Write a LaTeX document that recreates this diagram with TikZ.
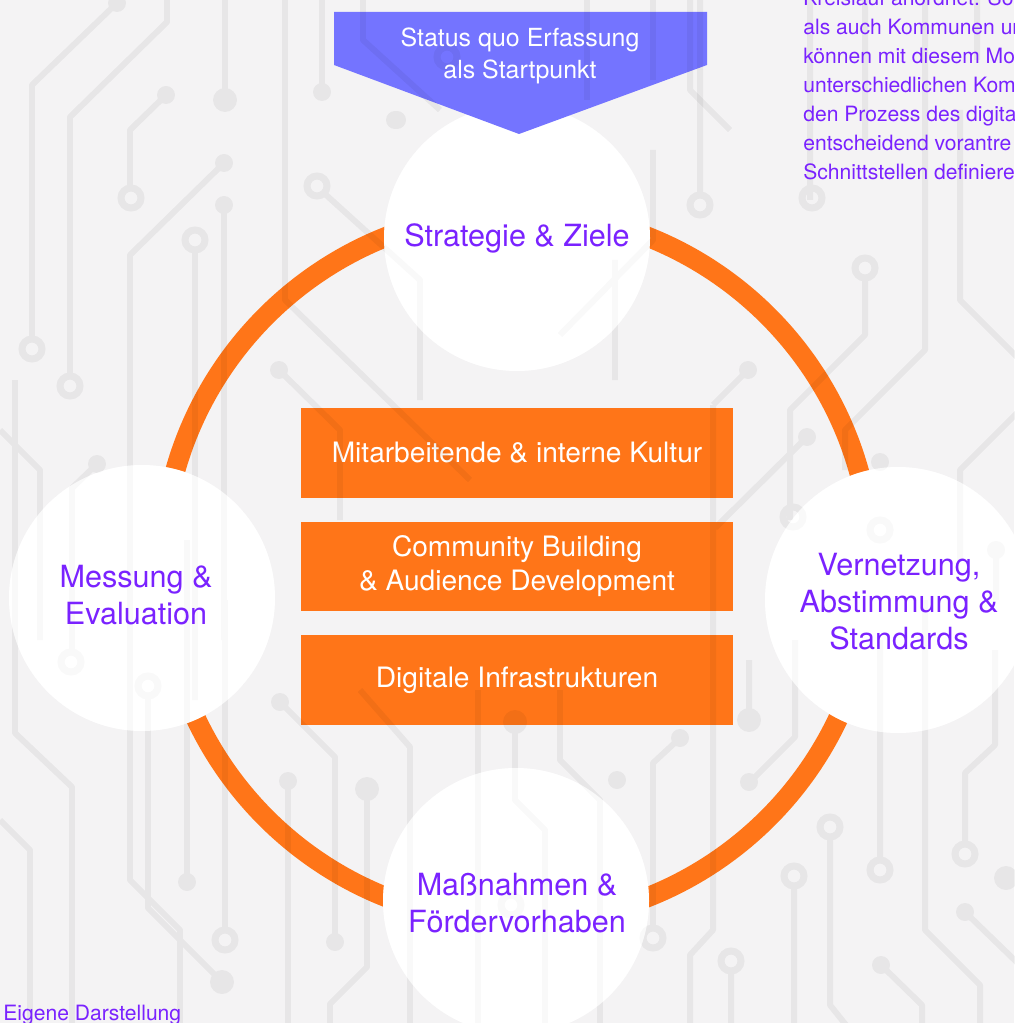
\documentclass[tikz,border=0pt]{standalone}
\usepackage{fontspec}
\setmainfont{TeX Gyre Heros}
\definecolor{bgc}{HTML}{F4F3F4}
\definecolor{org}{HTML}{FF7518}
\definecolor{pur}{HTML}{7A22FF}
\definecolor{arrc}{HTML}{7474FF}
\tikzset{
  circ/.style={circle, fill=white, minimum size=5.32cm, inner sep=0pt},
  ctext/.style={text=pur, align=center, font=\fontsize{17.4pt}{21pt}\selectfont},
  obox/.style={rectangle, fill=org, minimum width=8.64cm, minimum height=1.8cm, inner sep=0pt,
    text=white, align=center, font=\fontsize{16pt}{19.4pt}\selectfont},
  trc/.style={draw=black, line width=3.4pt, line join=round},
  para/.style={text=pur, inner sep=0pt, font=\fontsize{12pt}{16.5pt}\selectfont},
}
\newcommand{\trdot}[1]{\fill (#1) circle (9);}
\newcommand{\trbig}[1]{\fill (#1) circle (12);}
\newcommand{\trring}[1]{\draw[line width=4pt] (#1) circle (10);}
\begin{document}
\begin{tikzpicture}[x=0.02cm,y=-0.02cm]
\useasboundingbox (0,0) rectangle (1014,1023);
\begin{scope}
\clip (0,0) rectangle (1014,1023);
\fill[bgc] (0,0) rectangle (1014,1023);

% orange cycle ring
\draw[org, line width=11.4pt] (517,567) circle (355);

% white circles
\node[circ] (strat) at (517,238) {};
\node[circ] (mess) at (142,598) {};
\node[circ] (vern) at (898,600) {};
\node[circ] (mass) at (516,901) {};

% orange boxes
\node[obox] (b1) at (517,453) {Mitarbeitende \& interne Kultur};
\node[obox] (b2) at (517,566.5) {Community Building\\\& Audience Development};
\node[obox] (b3) at (517,680) {Digitale Infrastrukturen};

% circuit traces overlay
\begin{scope}[transparency group, opacity=0.05]
\draw[trc] (117,3) -- (32,85) -- (32,338); \trdot{117,3} \trring{32,349}
\draw[trc] (167,-10) -- (167,22) -- (70,117) -- (70,374); \trring{70,386}
\draw[trc] (166,95) -- (130,130) -- (130,187); \trdot{166,95} \trring{131,198}
\draw[trc] (225,-10) -- (225,100); \trbig{225,100}
\draw[trc] (224,163) -- (130,255) -- (130,880) -- (180,930) -- (180,1030); \trdot{224,163}
\draw[trc] (224,205) -- (224,640); \trdot{224,205}
\draw[trc] (195,252) -- (195,700); \trring{195,240}
\draw[trc] (285,-10) -- (285,300) -- (470,480);
\draw[trc] (322,-10) -- (322,92); \trdot{322,92}
\draw[trc] (325,194) -- (420,280) -- (420,400); \trring{317,186}
\draw[trc] (279,370) -- (340,430) -- (340,520); \trdot{279,370}
\draw[trc] (15,380) -- (15,733) -- (72,787) -- (72,1030);
\draw[trc] (0,430) -- (40,470) -- (40,640);
\draw[trc] (97,464) -- (72,488) -- (72,650); \trdot{97,464} \trring{71,662}
\draw[trc] (148,698) -- (148,908) -- (222,982); \trring{148,686} \trbig{222,982}
\draw[trc] (187,882) -- (187,540); \trdot{187,882}
\draw[trc] (280,702) -- (335,757) -- (335,942); \trdot{280,702} \trdot{335,942}
\draw[trc] (288,781) -- (288,1030); \trdot{288,781}
\draw[trc] (367,789) -- (367,967) -- (330,1004) -- (330,1030); \trbig{367,789}
\draw[trc] (225,600) -- (225,928); \trring{225,940}
\draw[trc] (0,820) -- (30,850) -- (30,1030);
\draw[trc] (360,690) -- (410,747) -- (410,1030);
\draw[trc] (478,690) -- (478,1030);
\draw[trc] (515,722) -- (515,800) -- (545,830) -- (545,1030); \trbig{515,722}
\trring{511,905}
\trdot{617,780}
\draw[trc] (560,690) -- (560,760) -- (600,800) -- (600,1030);
% right side
\draw[trc] (749,660) -- (749,720); \trbig{749,720}
\draw[trc] (680,738) -- (653,763) -- (653,926); \trdot{680,738} \trring{653,938}
\draw[trc] (795,640) -- (795,737) -- (755,777); \trdot{749,782}
\draw[trc] (830,839) -- (830,1005) -- (850,1030); \trring{830,827}
\draw[trc] (794,888) -- (794,1030); \trring{794,876}
\draw[trc] (880,640) -- (880,858); \trring{880,870}
\draw[trc] (925,600) -- (925,930) -- (980,985) -- (980,1030);
\draw[trc] (995,650) -- (995,745) -- (965,773) -- (965,842); \trring{965,854}
\draw[trc] (965,912) -- (1030,975); \trdot{965,912}
\draw[trc] (731,973) -- (731,1030); \trring{731,961}
\draw[trc] (881,965) -- (922,1005) -- (922,1030); \trdot{881,965}
\trbig{1006,878}
\draw[trc] (713,405) -- (713,930) -- (690,955) -- (690,1030);
\draw[trc] (748,370) -- (713,405); \trdot{748,370}
\draw[trc] (807,437) -- (715,528); \trdot{807,437}
\draw[trc] (700,70) -- (700,193); \trring{700,205}
\trring{812,198}
\draw[trc] (865,280) -- (865,335) -- (790,410) -- (790,520); \trring{865,268}
\draw[trc] (925,-10) -- (925,350) -- (845,430) -- (845,470);
\trdot{880,462}
\trring{793,517}
\trring{880,530}
\draw[trc] (996,550) -- (996,600); \trdot{996,550}
\draw[trc] (1030,400) -- (960,470) -- (960,560);
\draw[trc] (653,150) -- (653,240) -- (560,335);
\draw[trc] (615,260) -- (615,380);
\draw[trc] (810,-10) -- (810,200);
\draw[trc] (865,-10) -- (865,150);
\draw[trc] (960,110) -- (960,300) -- (1030,370);
\draw[trc] (977,-10) -- (977,60);
\end{scope}

% soften traces inside the white circles
\begin{scope}[transparency group, opacity=0.55]
\fill[white] (strat.center) circle (133);
\fill[white] (mess.center) circle (133);
\fill[white] (vern.center) circle (133);
\fill[white] (mass.center) circle (133);
\end{scope}

% start arrow
\fill[arrc] (334,12) -- (707,12) -- (707,65) -- (519,134) -- (334,65) -- cycle;

% traces crossing the top area (over the arrow)
\begin{scope}[transparency group, opacity=0.05]
\draw[trc] (363,-10) -- (363,40) -- (440,110); \trring{447,57}
\draw[trc] (587,-10) -- (587,100); \trdot{397,120}
\draw[trc] (653,-10) -- (653,80);
\draw[trc] (690,-10) -- (690,90) -- (730,130);
\draw[trc] (700,-10) -- (700,70);
\trdot{395,120}
\end{scope}

% texts
\node[ctext] (t1) at (strat.center) {Strategie \& Ziele};
\node[ctext] (t2) at (136,595) {Messung \&\\Evaluation};
\node[ctext] (t3) at (899,602) {Vernetzung,\\Abstimmung \&\\Standards};
\node[ctext] (t4) at (517,903) {Maßnahmen \&\\Fördervorhaben};

\node[text=white, align=center, font=\fontsize{14.2pt}{18.2pt}\selectfont] (start) at (520,56) {Status quo Erfassung\\als Startpunkt};

\foreach \t [count=\i] in {Kreislauf anordnet. So, als auch Kommunen un, können mit diesem Mo, unterschiedlichen Kom, den Prozess des digita, entscheidend vorantre, Schnittstellen definiere}
  \node[para, anchor=base west] (p\i) at (803,{6+29*(\i-1)}) {\t};

\node[para, anchor=base west] (src) at (3,1020) {Eigene Darstellung};
\end{scope}
\end{tikzpicture}
\end{document}
